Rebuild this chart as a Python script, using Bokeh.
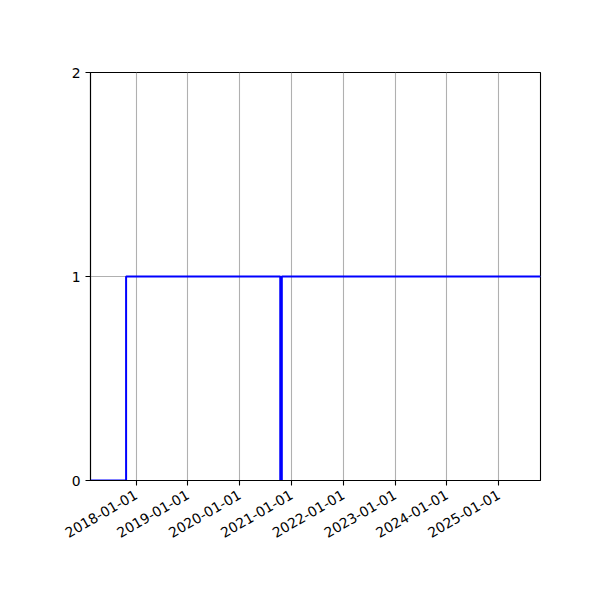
import math
import pandas as pd
from bokeh.plotting import figure
from bokeh.models import Range1d, FixedTicker, DatetimeTickFormatter
from bokeh.embed import file_html
from bokeh.resources import INLINE

# step series
dates = ["2017-02-13", "2017-10-22", "2020-10-13", "2020-10-24", "2025-10-22"]
values = [0, 1, 0, 1, 1]
tick_dates = ["2018-01-01", "2019-01-01", "2020-01-01", "2021-01-01",
              "2022-01-01", "2023-01-01", "2024-01-01", "2025-01-01"]
y_ticks = [0, 1, 2]

x = pd.to_datetime(dates)
ticks_ms = [pd.Timestamp(d).value / 1e6 for d in tick_dates]

p = figure(width=592, height=592, x_axis_type="datetime",
           x_range=Range1d(x[0], x[-1]), y_range=Range1d(0, 2),
           toolbar_location=None, output_backend="svg",
           min_border_left=90, min_border_right=52,
           min_border_top=72, min_border_bottom=112)
p.frame_width = 450
p.frame_height = 408

p.step(x, values, mode="after", line_color="#0000ff", line_width=2)

p.xaxis.ticker = FixedTicker(ticks=ticks_ms)
p.xaxis.formatter = DatetimeTickFormatter(days="%Y-%m-%d", months="%Y-%m-%d", years="%Y-%m-%d")
p.xaxis.major_label_orientation = math.pi / 6
p.yaxis.ticker = FixedTicker(ticks=y_ticks)

for ax in (p.xaxis, p.yaxis):
    ax.major_label_text_font = "DejaVu Sans"
    ax.major_label_text_font_size = "13.9px"
    ax.major_label_text_color = "black"
    ax.major_tick_out = 5
    ax.major_tick_in = 0
    ax.minor_tick_out = 0
    ax.minor_tick_in = 0
    ax.axis_line_color = "black"
    ax.axis_line_width = 1.1
    ax.major_tick_line_width = 1.1
    ax.major_label_standoff = 5
p.xaxis.major_label_standoff = 8

p.grid.grid_line_color = "#b0b0b0"
p.grid.grid_line_width = 1.1
p.outline_line_color = "black"
p.outline_line_width = 1.1
p.outline_line_alpha = 1

open("out.html", "w").write(file_html(p, INLINE))
